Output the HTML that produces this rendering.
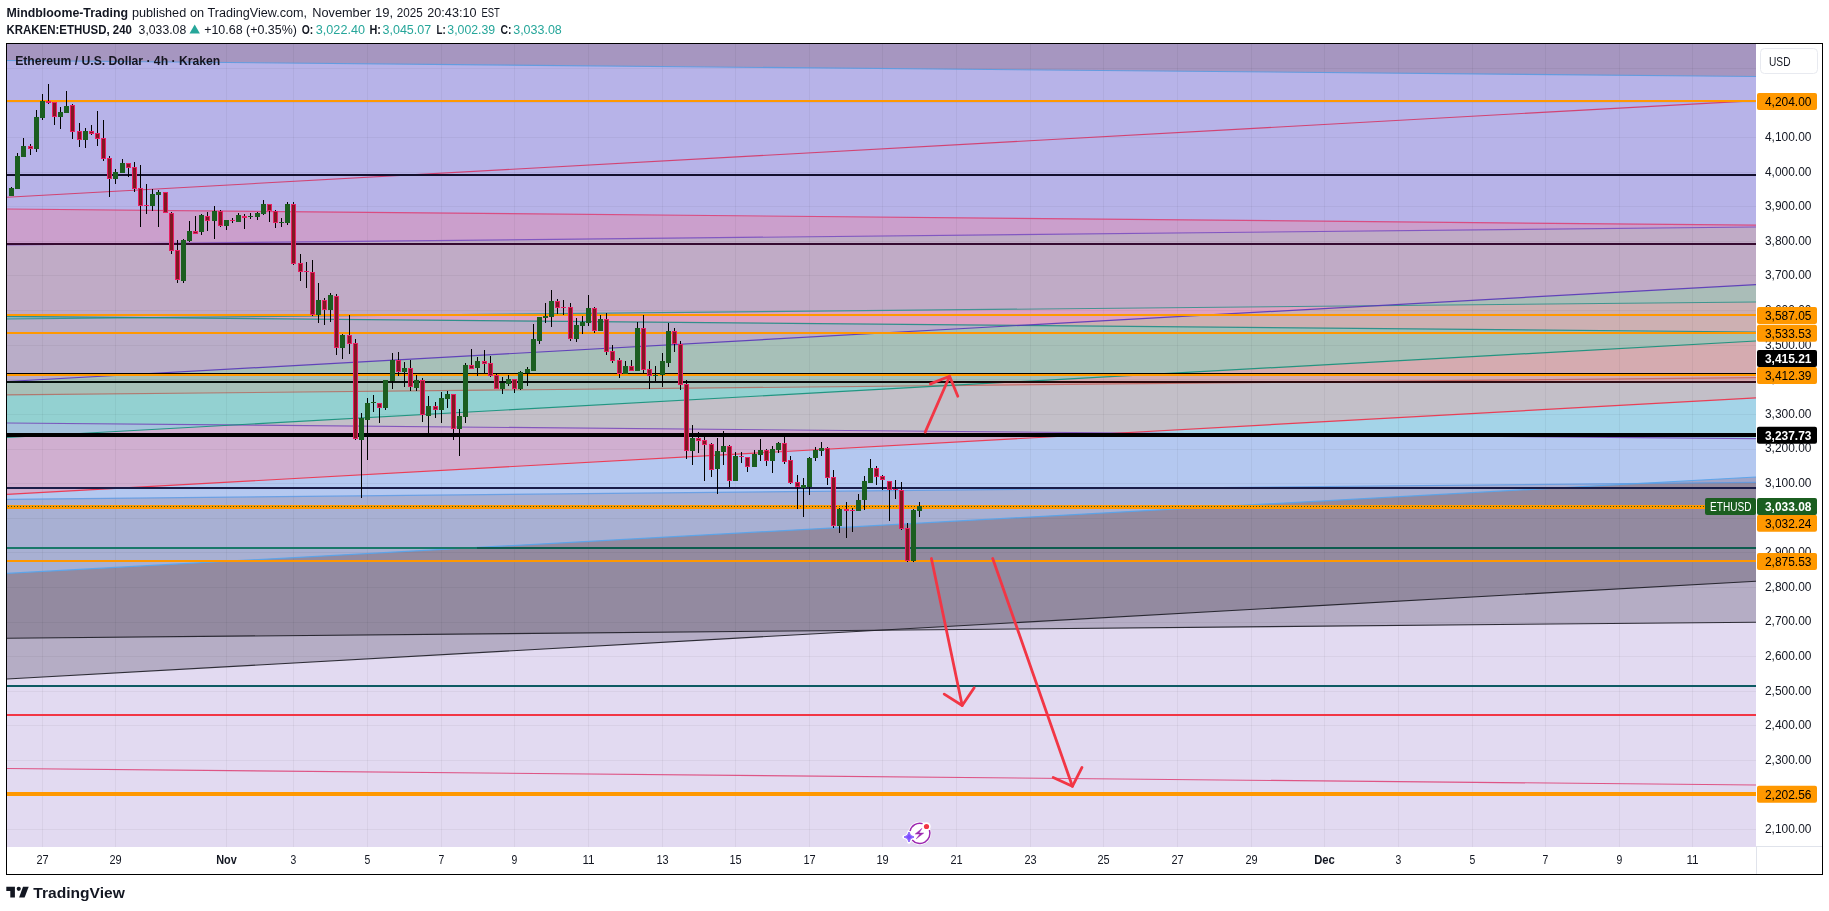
<!DOCTYPE html>
<html><head><meta charset="utf-8"><title>ETHUSD chart</title>
<style>
html,body{margin:0;padding:0;background:#fff;}
body{width:1829px;height:911px;position:relative;overflow:hidden;font-family:"Liberation Sans",sans-serif;}
svg text{font-family:"Liberation Sans",sans-serif;}
</style></head><body>
<svg width="1829" height="911" viewBox="0 0 1829 911" font-family="Liberation Sans, sans-serif" style="position:absolute;left:0;top:0;will-change:transform">
<defs><linearGradient id="h7g" x1="0" x2="1" y1="0" y2="0"><stop offset="0" stop-color="#06120e"/><stop offset="0.5" stop-color="#0a0a0a"/><stop offset="0.62" stop-color="#2a0608"/><stop offset="1" stop-color="#34101c"/></linearGradient></defs>
<rect x="0" y="0" width="1829" height="911" fill="#fff"/>
<g shape-rendering="geometricPrecision"><rect x="7" y="44" width="1749" height="803" fill="#a696c0"/>
<polygon points="7.00,60.50 1756.00,76.50 1756.00,847.00 7.00,847.00" fill="#b7b3e8"/>
<polygon points="7.00,209.00 1756.00,225.20 1756.00,847.00 7.00,847.00" fill="#cb9fcc"/>
<polygon points="7.00,245.00 1756.00,227.00 1756.00,847.00 7.00,847.00" fill="#c0abc6"/>
<polygon points="7.00,316.40 146.49,317.64 146.49,847.00 7.00,847.00" fill="#92b4c4"/>
<polygon points="146.49,317.64 1756.00,302.00 1756.00,847.00 146.49,847.00" fill="#dfa2c2"/>
<polygon points="7.00,319.00 146.49,317.64 146.49,317.64 1019.09,325.43 1019.09,847.00 7.00,847.00" fill="#b9adc8"/>
<polygon points="1375.12,305.70 1756.00,284.60 1756.00,847.00 1375.12,847.00" fill="#aabdb8"/>
<polygon points="1019.09,325.43 1375.12,305.70 1375.12,305.70 1756.00,302.00 1756.00,847.00 1019.09,847.00" fill="#cdb0b2"/>
<polygon points="7.00,381.50 1019.09,325.43 1019.09,325.43 1756.00,332.00 1756.00,847.00 7.00,847.00" fill="#a7c0b8"/>
<polygon points="7.00,394.90 947.75,385.59 947.75,847.00 7.00,847.00" fill="#93d1d1"/>
<polygon points="947.75,385.59 1756.00,341.00 1756.00,847.00 947.75,847.00" fill="#d5abb0"/>
<polygon points="7.00,423.00 233.23,425.02 233.23,847.00 7.00,847.00" fill="#a4c3dc"/>
<polygon points="233.23,425.02 947.75,385.59 947.75,385.59 1311.17,382.00 1311.17,382.00 1756.00,382.00 1756.00,847.00 233.23,847.00" fill="#c3bfc8"/>
<polygon points="7.00,437.50 233.23,425.02 233.23,425.02 1120.99,432.94 1120.99,847.00 7.00,847.00" fill="#d0afd0"/>
<polygon points="1120.99,432.94 1756.00,397.90 1756.00,847.00 1120.99,847.00" fill="#a4d4e8"/>
<polygon points="7.00,494.40 1120.99,432.94 1120.99,432.94 1756.00,438.60 1756.00,847.00 7.00,847.00" fill="#b4c8f0"/>
<polygon points="7.00,499.30 1639.25,483.43 1639.25,847.00 7.00,847.00" fill="#a8b0d3"/>
<polygon points="1639.25,483.43 1756.00,477.00 1756.00,847.00 1639.25,847.00" fill="#a0a4c8"/>
<polygon points="7.00,573.40 1639.25,483.43 1639.25,483.43 1756.00,482.30 1756.00,847.00 7.00,847.00" fill="#938aa0"/>
<polygon points="7.00,638.20 879.36,630.22 879.36,630.22 1756.00,581.20 1756.00,847.00 7.00,847.00" fill="#b5adc5"/>
<polygon points="7.00,679.00 879.36,630.22 879.36,630.22 1756.00,622.20 1756.00,847.00 7.00,847.00" fill="#e2daf1"/></g>
<g shape-rendering="crispEdges"><rect x="42" y="44" width="1" height="803" fill="#000" fill-opacity="0.045"/>
<rect x="115" y="44" width="1" height="803" fill="#000" fill-opacity="0.045"/>
<rect x="226" y="44" width="1" height="803" fill="#000" fill-opacity="0.045"/>
<rect x="293" y="44" width="1" height="803" fill="#000" fill-opacity="0.045"/>
<rect x="367" y="44" width="1" height="803" fill="#000" fill-opacity="0.045"/>
<rect x="441" y="44" width="1" height="803" fill="#000" fill-opacity="0.045"/>
<rect x="514" y="44" width="1" height="803" fill="#000" fill-opacity="0.045"/>
<rect x="588" y="44" width="1" height="803" fill="#000" fill-opacity="0.045"/>
<rect x="662" y="44" width="1" height="803" fill="#000" fill-opacity="0.045"/>
<rect x="735" y="44" width="1" height="803" fill="#000" fill-opacity="0.045"/>
<rect x="809" y="44" width="1" height="803" fill="#000" fill-opacity="0.045"/>
<rect x="882" y="44" width="1" height="803" fill="#000" fill-opacity="0.045"/>
<rect x="956" y="44" width="1" height="803" fill="#000" fill-opacity="0.045"/>
<rect x="1030" y="44" width="1" height="803" fill="#000" fill-opacity="0.045"/>
<rect x="1103" y="44" width="1" height="803" fill="#000" fill-opacity="0.045"/>
<rect x="1177" y="44" width="1" height="803" fill="#000" fill-opacity="0.045"/>
<rect x="1251" y="44" width="1" height="803" fill="#000" fill-opacity="0.045"/>
<rect x="1324" y="44" width="1" height="803" fill="#000" fill-opacity="0.045"/>
<rect x="1398" y="44" width="1" height="803" fill="#000" fill-opacity="0.045"/>
<rect x="1472" y="44" width="1" height="803" fill="#000" fill-opacity="0.045"/>
<rect x="1545" y="44" width="1" height="803" fill="#000" fill-opacity="0.045"/>
<rect x="1619" y="44" width="1" height="803" fill="#000" fill-opacity="0.045"/>
<rect x="1692" y="44" width="1" height="803" fill="#000" fill-opacity="0.045"/>
<rect x="7" y="829" width="1749" height="1" fill="#000" fill-opacity="0.045"/>
<rect x="7" y="795" width="1749" height="1" fill="#000" fill-opacity="0.045"/>
<rect x="7" y="760" width="1749" height="1" fill="#000" fill-opacity="0.045"/>
<rect x="7" y="725" width="1749" height="1" fill="#000" fill-opacity="0.045"/>
<rect x="7" y="691" width="1749" height="1" fill="#000" fill-opacity="0.045"/>
<rect x="7" y="656" width="1749" height="1" fill="#000" fill-opacity="0.045"/>
<rect x="7" y="622" width="1749" height="1" fill="#000" fill-opacity="0.045"/>
<rect x="7" y="587" width="1749" height="1" fill="#000" fill-opacity="0.045"/>
<rect x="7" y="552" width="1749" height="1" fill="#000" fill-opacity="0.045"/>
<rect x="7" y="518" width="1749" height="1" fill="#000" fill-opacity="0.045"/>
<rect x="7" y="483" width="1749" height="1" fill="#000" fill-opacity="0.045"/>
<rect x="7" y="449" width="1749" height="1" fill="#000" fill-opacity="0.045"/>
<rect x="7" y="414" width="1749" height="1" fill="#000" fill-opacity="0.045"/>
<rect x="7" y="379" width="1749" height="1" fill="#000" fill-opacity="0.045"/>
<rect x="7" y="345" width="1749" height="1" fill="#000" fill-opacity="0.045"/>
<rect x="7" y="310" width="1749" height="1" fill="#000" fill-opacity="0.045"/>
<rect x="7" y="275" width="1749" height="1" fill="#000" fill-opacity="0.045"/>
<rect x="7" y="241" width="1749" height="1" fill="#000" fill-opacity="0.045"/>
<rect x="7" y="206" width="1749" height="1" fill="#000" fill-opacity="0.045"/>
<rect x="7" y="172" width="1749" height="1" fill="#000" fill-opacity="0.045"/>
<rect x="7" y="137" width="1749" height="1" fill="#000" fill-opacity="0.045"/>
<rect x="7" y="102" width="1749" height="1" fill="#000" fill-opacity="0.045"/>
<rect x="7" y="68" width="1749" height="1" fill="#000" fill-opacity="0.045"/></g>
<g><line x1="7" y1="60.50" x2="1756" y2="76.50" stroke="#5b9be0" stroke-width="1.1" stroke-opacity="0.90"/>
<line x1="7" y1="197.20" x2="1756" y2="100.60" stroke="#d62f5e" stroke-width="1.1" stroke-opacity="0.85"/>
<line x1="7" y1="209.00" x2="1756" y2="225.20" stroke="#dd3d72" stroke-width="1.2" stroke-opacity="0.85"/>
<line x1="7" y1="245.00" x2="1756" y2="227.00" stroke="#7a4fc0" stroke-width="1.2" stroke-opacity="0.90"/>
<line x1="7" y1="316.40" x2="1756" y2="332.00" stroke="#1f8d86" stroke-width="1.2" stroke-opacity="0.90"/>
<line x1="7" y1="319.00" x2="1756" y2="302.00" stroke="#1f8d86" stroke-width="1.1" stroke-opacity="0.80"/>
<line x1="7" y1="381.50" x2="1756" y2="284.60" stroke="#5836b8" stroke-width="1.2" stroke-opacity="0.90"/>
<line x1="7" y1="394.90" x2="1756" y2="377.60" stroke="#c0392b" stroke-width="1.1" stroke-opacity="0.55"/>
<line x1="7" y1="423.00" x2="1756" y2="438.60" stroke="#7445b8" stroke-width="1.2" stroke-opacity="0.85"/>
<line x1="7" y1="437.50" x2="1756" y2="341.00" stroke="#12907a" stroke-width="1.2" stroke-opacity="0.90"/>
<line x1="7" y1="494.40" x2="1756" y2="397.90" stroke="#ee3048" stroke-width="1.2" stroke-opacity="0.90"/>
<line x1="7" y1="499.30" x2="1756" y2="482.30" stroke="#5a98e4" stroke-width="1.2" stroke-opacity="0.80"/>
<line x1="7" y1="573.40" x2="1756" y2="477.00" stroke="#56a4ec" stroke-width="1.2" stroke-opacity="0.90"/>
<line x1="7" y1="638.20" x2="1756" y2="622.20" stroke="#1c1c24" stroke-width="1.1" stroke-opacity="0.90"/>
<line x1="7" y1="679.00" x2="1756" y2="581.20" stroke="#1c1c24" stroke-width="1.1" stroke-opacity="0.90"/>
<line x1="7" y1="768.50" x2="1756" y2="785.00" stroke="#dd3d72" stroke-width="1.1" stroke-opacity="0.85"/></g>
<g shape-rendering="crispEdges"><rect x="7" y="100" width="1749" height="2" fill="#ff9800"/>
<rect x="7" y="174" width="1749" height="2" fill="#14102e"/>
<rect x="7" y="243" width="1749" height="2" fill="#350a30"/>
<rect x="7" y="314" width="1749" height="2" fill="#ff9800"/>
<rect x="7" y="332" width="1749" height="2" fill="#ff9800"/>
<rect x="7" y="373" width="1749" height="1" fill="#000000"/>
<rect x="7" y="374" width="1749" height="2" fill="#ff9800"/>
<rect x="7" y="433" width="1749" height="4" fill="#000000"/>
<rect x="7" y="487" width="1749" height="2" fill="#1a1d48"/>
<rect x="7" y="560" width="1749" height="2" fill="#ff9800"/>
<rect x="7" y="685" width="1749" height="2" fill="#0d5a63"/>
<rect x="7" y="714" width="1749" height="2" fill="#f23645"/>
<rect x="7" y="792" width="1749" height="4" fill="#ff9800"/>
<rect x="7" y="547" width="470" height="2" fill="#197869"/>
<rect x="477" y="547" width="1279" height="2" fill="#0d5c4f"/>
<rect x="7" y="381" width="1749" height="2" fill="url(#h7g)"/>
<rect x="7" y="505" width="1698" height="4" fill="#ff9800"/>
<line x1="8" y1="506.5" x2="1705" y2="506.5" stroke="#1b5e20" stroke-width="1" stroke-dasharray="1 2"/></g>
<g shape-rendering="crispEdges"><rect x="11" y="187" width="1" height="9" fill="#000"/>
<rect x="9" y="188" width="5" height="8" fill="#1b5e20"/>
<rect x="17" y="153" width="1" height="36" fill="#000"/>
<rect x="15" y="156" width="5" height="33" fill="#1b5e20"/>
<rect x="23" y="138" width="1" height="19" fill="#000"/>
<rect x="21" y="146" width="5" height="11" fill="#1b5e20"/>
<rect x="30" y="144" width="1" height="11" fill="#000"/>
<rect x="28" y="146" width="5" height="3" fill="#e91e63"/>
<rect x="29" y="147" width="3" height="1" fill="#801922"/>
<rect x="36" y="110" width="1" height="42" fill="#000"/>
<rect x="34" y="117" width="5" height="32" fill="#1b5e20"/>
<rect x="42" y="94" width="1" height="26" fill="#000"/>
<rect x="40" y="101" width="5" height="17" fill="#1b5e20"/>
<rect x="48" y="84" width="1" height="20" fill="#000"/>
<rect x="46" y="101" width="5" height="2" fill="#e91e63"/>
<rect x="54" y="102" width="1" height="23" fill="#000"/>
<rect x="52" y="102" width="5" height="15" fill="#e91e63"/>
<rect x="53" y="103" width="3" height="13" fill="#801922"/>
<rect x="60" y="107" width="1" height="22" fill="#000"/>
<rect x="58" y="112" width="5" height="5" fill="#1b5e20"/>
<rect x="66" y="91" width="1" height="22" fill="#000"/>
<rect x="64" y="106" width="5" height="7" fill="#1b5e20"/>
<rect x="72" y="104" width="1" height="35" fill="#000"/>
<rect x="70" y="105" width="5" height="27" fill="#e91e63"/>
<rect x="71" y="106" width="3" height="25" fill="#801922"/>
<rect x="79" y="123" width="1" height="24" fill="#000"/>
<rect x="77" y="131" width="5" height="9" fill="#e91e63"/>
<rect x="78" y="132" width="3" height="7" fill="#801922"/>
<rect x="85" y="128" width="1" height="20" fill="#000"/>
<rect x="83" y="131" width="5" height="9" fill="#1b5e20"/>
<rect x="91" y="125" width="1" height="10" fill="#000"/>
<rect x="89" y="131" width="5" height="3" fill="#e91e63"/>
<rect x="90" y="132" width="3" height="1" fill="#801922"/>
<rect x="97" y="111" width="1" height="35" fill="#000"/>
<rect x="95" y="133" width="5" height="6" fill="#e91e63"/>
<rect x="96" y="134" width="3" height="4" fill="#801922"/>
<rect x="103" y="120" width="1" height="41" fill="#000"/>
<rect x="101" y="138" width="5" height="21" fill="#e91e63"/>
<rect x="102" y="139" width="3" height="19" fill="#801922"/>
<rect x="109" y="156" width="1" height="41" fill="#000"/>
<rect x="107" y="158" width="5" height="21" fill="#e91e63"/>
<rect x="108" y="159" width="3" height="19" fill="#801922"/>
<rect x="115" y="169" width="1" height="15" fill="#000"/>
<rect x="113" y="172" width="5" height="7" fill="#1b5e20"/>
<rect x="122" y="159" width="1" height="14" fill="#000"/>
<rect x="120" y="163" width="5" height="10" fill="#1b5e20"/>
<rect x="128" y="163" width="1" height="14" fill="#000"/>
<rect x="126" y="163" width="5" height="5" fill="#e91e63"/>
<rect x="127" y="164" width="3" height="3" fill="#801922"/>
<rect x="134" y="162" width="1" height="30" fill="#000"/>
<rect x="132" y="167" width="5" height="22" fill="#e91e63"/>
<rect x="133" y="168" width="3" height="20" fill="#801922"/>
<rect x="140" y="165" width="1" height="62" fill="#000"/>
<rect x="138" y="188" width="5" height="18" fill="#e91e63"/>
<rect x="139" y="189" width="3" height="16" fill="#801922"/>
<rect x="146" y="184" width="1" height="30" fill="#000"/>
<rect x="144" y="205" width="5" height="1" fill="#e91e63"/>
<rect x="152" y="189" width="1" height="22" fill="#000"/>
<rect x="150" y="194" width="5" height="12" fill="#1b5e20"/>
<rect x="158" y="190" width="1" height="37" fill="#000"/>
<rect x="156" y="192" width="5" height="3" fill="#1b5e20"/>
<rect x="165" y="192" width="1" height="21" fill="#000"/>
<rect x="163" y="192" width="5" height="21" fill="#e91e63"/>
<rect x="164" y="193" width="3" height="19" fill="#801922"/>
<rect x="171" y="212" width="1" height="42" fill="#000"/>
<rect x="169" y="213" width="5" height="38" fill="#e91e63"/>
<rect x="170" y="214" width="3" height="36" fill="#801922"/>
<rect x="177" y="240" width="1" height="43" fill="#000"/>
<rect x="175" y="250" width="5" height="30" fill="#e91e63"/>
<rect x="176" y="251" width="3" height="28" fill="#801922"/>
<rect x="183" y="239" width="1" height="44" fill="#000"/>
<rect x="181" y="240" width="5" height="41" fill="#1b5e20"/>
<rect x="189" y="221" width="1" height="21" fill="#000"/>
<rect x="187" y="231" width="5" height="10" fill="#1b5e20"/>
<rect x="195" y="216" width="1" height="18" fill="#000"/>
<rect x="193" y="231" width="5" height="3" fill="#e91e63"/>
<rect x="194" y="232" width="3" height="1" fill="#801922"/>
<rect x="201" y="214" width="1" height="21" fill="#000"/>
<rect x="199" y="215" width="5" height="17" fill="#1b5e20"/>
<rect x="207" y="212" width="1" height="19" fill="#000"/>
<rect x="205" y="216" width="5" height="5" fill="#e91e63"/>
<rect x="206" y="217" width="3" height="3" fill="#801922"/>
<rect x="214" y="206" width="1" height="33" fill="#000"/>
<rect x="212" y="211" width="5" height="10" fill="#1b5e20"/>
<rect x="220" y="210" width="1" height="17" fill="#000"/>
<rect x="218" y="211" width="5" height="15" fill="#e91e63"/>
<rect x="219" y="212" width="3" height="13" fill="#801922"/>
<rect x="226" y="220" width="1" height="10" fill="#000"/>
<rect x="224" y="220" width="5" height="6" fill="#1b5e20"/>
<rect x="232" y="218" width="1" height="5" fill="#000"/>
<rect x="230" y="220" width="5" height="1" fill="#e91e63"/>
<rect x="238" y="213" width="1" height="9" fill="#000"/>
<rect x="236" y="215" width="5" height="7" fill="#1b5e20"/>
<rect x="244" y="214" width="1" height="15" fill="#000"/>
<rect x="242" y="216" width="5" height="2" fill="#e91e63"/>
<rect x="250" y="213" width="1" height="6" fill="#000"/>
<rect x="248" y="216" width="5" height="1" fill="#1b5e20"/>
<rect x="257" y="212" width="1" height="8" fill="#000"/>
<rect x="255" y="213" width="5" height="4" fill="#1b5e20"/>
<rect x="263" y="200" width="1" height="15" fill="#000"/>
<rect x="261" y="204" width="5" height="10" fill="#1b5e20"/>
<rect x="269" y="204" width="1" height="18" fill="#000"/>
<rect x="267" y="204" width="5" height="7" fill="#e91e63"/>
<rect x="268" y="205" width="3" height="5" fill="#801922"/>
<rect x="275" y="210" width="1" height="18" fill="#000"/>
<rect x="273" y="211" width="5" height="12" fill="#e91e63"/>
<rect x="274" y="212" width="3" height="10" fill="#801922"/>
<rect x="281" y="218" width="1" height="9" fill="#000"/>
<rect x="279" y="222" width="5" height="1" fill="#1b5e20"/>
<rect x="287" y="202" width="1" height="23" fill="#000"/>
<rect x="285" y="204" width="5" height="19" fill="#1b5e20"/>
<rect x="293" y="202" width="1" height="63" fill="#000"/>
<rect x="291" y="204" width="5" height="60" fill="#e91e63"/>
<rect x="292" y="205" width="3" height="58" fill="#801922"/>
<rect x="300" y="254" width="1" height="27" fill="#000"/>
<rect x="298" y="263" width="5" height="9" fill="#e91e63"/>
<rect x="299" y="264" width="3" height="7" fill="#801922"/>
<rect x="306" y="262" width="1" height="26" fill="#000"/>
<rect x="304" y="271" width="5" height="1" fill="#e91e63"/>
<rect x="312" y="260" width="1" height="56" fill="#000"/>
<rect x="310" y="272" width="5" height="43" fill="#e91e63"/>
<rect x="311" y="273" width="3" height="41" fill="#801922"/>
<rect x="318" y="283" width="1" height="40" fill="#000"/>
<rect x="316" y="300" width="5" height="15" fill="#1b5e20"/>
<rect x="324" y="298" width="1" height="27" fill="#000"/>
<rect x="322" y="300" width="5" height="10" fill="#e91e63"/>
<rect x="323" y="301" width="3" height="8" fill="#801922"/>
<rect x="330" y="293" width="1" height="29" fill="#000"/>
<rect x="328" y="295" width="5" height="15" fill="#1b5e20"/>
<rect x="336" y="294" width="1" height="61" fill="#000"/>
<rect x="334" y="296" width="5" height="52" fill="#e91e63"/>
<rect x="335" y="297" width="3" height="50" fill="#801922"/>
<rect x="342" y="334" width="1" height="25" fill="#000"/>
<rect x="340" y="335" width="5" height="13" fill="#1b5e20"/>
<rect x="349" y="315" width="1" height="39" fill="#000"/>
<rect x="347" y="335" width="5" height="9" fill="#e91e63"/>
<rect x="348" y="336" width="3" height="7" fill="#801922"/>
<rect x="355" y="339" width="1" height="101" fill="#000"/>
<rect x="353" y="343" width="5" height="96" fill="#e91e63"/>
<rect x="354" y="344" width="3" height="94" fill="#801922"/>
<rect x="361" y="413" width="1" height="85" fill="#000"/>
<rect x="359" y="418" width="5" height="22" fill="#1b5e20"/>
<rect x="367" y="398" width="1" height="62" fill="#000"/>
<rect x="365" y="403" width="5" height="17" fill="#1b5e20"/>
<rect x="373" y="395" width="1" height="17" fill="#000"/>
<rect x="371" y="402" width="5" height="1" fill="#1b5e20"/>
<rect x="379" y="403" width="1" height="20" fill="#000"/>
<rect x="377" y="403" width="5" height="5" fill="#e91e63"/>
<rect x="378" y="404" width="3" height="3" fill="#801922"/>
<rect x="385" y="380" width="1" height="30" fill="#000"/>
<rect x="383" y="380" width="5" height="28" fill="#1b5e20"/>
<rect x="392" y="353" width="1" height="36" fill="#000"/>
<rect x="390" y="360" width="5" height="21" fill="#1b5e20"/>
<rect x="398" y="352" width="1" height="24" fill="#000"/>
<rect x="396" y="360" width="5" height="12" fill="#e91e63"/>
<rect x="397" y="361" width="3" height="10" fill="#801922"/>
<rect x="404" y="362" width="1" height="25" fill="#000"/>
<rect x="402" y="368" width="5" height="4" fill="#1b5e20"/>
<rect x="410" y="360" width="1" height="31" fill="#000"/>
<rect x="408" y="368" width="5" height="19" fill="#e91e63"/>
<rect x="409" y="369" width="3" height="17" fill="#801922"/>
<rect x="416" y="375" width="1" height="16" fill="#000"/>
<rect x="414" y="380" width="5" height="8" fill="#1b5e20"/>
<rect x="422" y="378" width="1" height="44" fill="#000"/>
<rect x="420" y="380" width="5" height="35" fill="#e91e63"/>
<rect x="421" y="381" width="3" height="33" fill="#801922"/>
<rect x="428" y="396" width="1" height="37" fill="#000"/>
<rect x="426" y="406" width="5" height="10" fill="#1b5e20"/>
<rect x="435" y="402" width="1" height="16" fill="#000"/>
<rect x="433" y="406" width="5" height="4" fill="#e91e63"/>
<rect x="434" y="407" width="3" height="2" fill="#801922"/>
<rect x="441" y="392" width="1" height="31" fill="#000"/>
<rect x="439" y="398" width="5" height="12" fill="#1b5e20"/>
<rect x="447" y="391" width="1" height="17" fill="#000"/>
<rect x="445" y="394" width="5" height="5" fill="#1b5e20"/>
<rect x="453" y="394" width="1" height="46" fill="#000"/>
<rect x="451" y="394" width="5" height="35" fill="#e91e63"/>
<rect x="452" y="395" width="3" height="33" fill="#801922"/>
<rect x="459" y="409" width="1" height="47" fill="#000"/>
<rect x="457" y="416" width="5" height="13" fill="#1b5e20"/>
<rect x="465" y="363" width="1" height="60" fill="#000"/>
<rect x="463" y="365" width="5" height="52" fill="#1b5e20"/>
<rect x="471" y="349" width="1" height="20" fill="#000"/>
<rect x="469" y="365" width="5" height="4" fill="#e91e63"/>
<rect x="470" y="366" width="3" height="2" fill="#801922"/>
<rect x="477" y="357" width="1" height="19" fill="#000"/>
<rect x="475" y="361" width="5" height="7" fill="#1b5e20"/>
<rect x="484" y="350" width="1" height="24" fill="#000"/>
<rect x="482" y="361" width="5" height="3" fill="#e91e63"/>
<rect x="483" y="362" width="3" height="1" fill="#801922"/>
<rect x="490" y="356" width="1" height="21" fill="#000"/>
<rect x="488" y="363" width="5" height="13" fill="#e91e63"/>
<rect x="489" y="364" width="3" height="11" fill="#801922"/>
<rect x="496" y="374" width="1" height="15" fill="#000"/>
<rect x="494" y="375" width="5" height="14" fill="#e91e63"/>
<rect x="495" y="376" width="3" height="12" fill="#801922"/>
<rect x="502" y="377" width="1" height="17" fill="#000"/>
<rect x="500" y="383" width="5" height="6" fill="#1b5e20"/>
<rect x="508" y="375" width="1" height="11" fill="#000"/>
<rect x="506" y="379" width="5" height="5" fill="#1b5e20"/>
<rect x="514" y="379" width="1" height="14" fill="#000"/>
<rect x="512" y="379" width="5" height="10" fill="#e91e63"/>
<rect x="513" y="380" width="3" height="8" fill="#801922"/>
<rect x="520" y="371" width="1" height="19" fill="#000"/>
<rect x="518" y="372" width="5" height="17" fill="#1b5e20"/>
<rect x="527" y="367" width="1" height="19" fill="#000"/>
<rect x="525" y="369" width="5" height="4" fill="#1b5e20"/>
<rect x="533" y="324" width="1" height="47" fill="#000"/>
<rect x="531" y="339" width="5" height="32" fill="#1b5e20"/>
<rect x="539" y="317" width="1" height="27" fill="#000"/>
<rect x="537" y="317" width="5" height="24" fill="#1b5e20"/>
<rect x="545" y="303" width="1" height="20" fill="#000"/>
<rect x="543" y="316" width="5" height="2" fill="#1b5e20"/>
<rect x="551" y="290" width="1" height="37" fill="#000"/>
<rect x="549" y="301" width="5" height="16" fill="#1b5e20"/>
<rect x="557" y="299" width="1" height="15" fill="#000"/>
<rect x="555" y="301" width="5" height="7" fill="#e91e63"/>
<rect x="556" y="302" width="3" height="5" fill="#801922"/>
<rect x="563" y="300" width="1" height="15" fill="#000"/>
<rect x="561" y="307" width="5" height="1" fill="#e91e63"/>
<rect x="570" y="303" width="1" height="38" fill="#000"/>
<rect x="568" y="307" width="5" height="32" fill="#e91e63"/>
<rect x="569" y="308" width="3" height="30" fill="#801922"/>
<rect x="576" y="318" width="1" height="24" fill="#000"/>
<rect x="574" y="325" width="5" height="14" fill="#1b5e20"/>
<rect x="582" y="316" width="1" height="18" fill="#000"/>
<rect x="580" y="322" width="5" height="4" fill="#1b5e20"/>
<rect x="588" y="295" width="1" height="31" fill="#000"/>
<rect x="586" y="308" width="5" height="15" fill="#1b5e20"/>
<rect x="594" y="307" width="1" height="26" fill="#000"/>
<rect x="592" y="308" width="5" height="23" fill="#e91e63"/>
<rect x="593" y="309" width="3" height="21" fill="#801922"/>
<rect x="600" y="315" width="1" height="16" fill="#000"/>
<rect x="598" y="319" width="5" height="12" fill="#1b5e20"/>
<rect x="606" y="313" width="1" height="42" fill="#000"/>
<rect x="604" y="319" width="5" height="33" fill="#e91e63"/>
<rect x="605" y="320" width="3" height="31" fill="#801922"/>
<rect x="612" y="345" width="1" height="18" fill="#000"/>
<rect x="610" y="351" width="5" height="10" fill="#e91e63"/>
<rect x="611" y="352" width="3" height="8" fill="#801922"/>
<rect x="619" y="358" width="1" height="20" fill="#000"/>
<rect x="617" y="360" width="5" height="14" fill="#e91e63"/>
<rect x="618" y="361" width="3" height="12" fill="#801922"/>
<rect x="625" y="361" width="1" height="13" fill="#000"/>
<rect x="623" y="366" width="5" height="8" fill="#1b5e20"/>
<rect x="631" y="360" width="1" height="11" fill="#000"/>
<rect x="629" y="366" width="5" height="5" fill="#e91e63"/>
<rect x="630" y="367" width="3" height="3" fill="#801922"/>
<rect x="637" y="322" width="1" height="49" fill="#000"/>
<rect x="635" y="328" width="5" height="43" fill="#1b5e20"/>
<rect x="643" y="315" width="1" height="58" fill="#000"/>
<rect x="641" y="328" width="5" height="42" fill="#e91e63"/>
<rect x="642" y="329" width="3" height="40" fill="#801922"/>
<rect x="649" y="361" width="1" height="28" fill="#000"/>
<rect x="647" y="369" width="5" height="7" fill="#e91e63"/>
<rect x="648" y="370" width="3" height="5" fill="#801922"/>
<rect x="655" y="366" width="1" height="15" fill="#000"/>
<rect x="653" y="375" width="5" height="1" fill="#1b5e20"/>
<rect x="662" y="353" width="1" height="34" fill="#000"/>
<rect x="660" y="361" width="5" height="14" fill="#1b5e20"/>
<rect x="668" y="323" width="1" height="44" fill="#000"/>
<rect x="666" y="331" width="5" height="32" fill="#1b5e20"/>
<rect x="674" y="328" width="1" height="24" fill="#000"/>
<rect x="672" y="331" width="5" height="13" fill="#e91e63"/>
<rect x="673" y="332" width="3" height="11" fill="#801922"/>
<rect x="680" y="341" width="1" height="49" fill="#000"/>
<rect x="678" y="344" width="5" height="41" fill="#e91e63"/>
<rect x="679" y="345" width="3" height="39" fill="#801922"/>
<rect x="686" y="380" width="1" height="79" fill="#000"/>
<rect x="684" y="384" width="5" height="67" fill="#e91e63"/>
<rect x="685" y="385" width="3" height="65" fill="#801922"/>
<rect x="692" y="425" width="1" height="40" fill="#000"/>
<rect x="690" y="438" width="5" height="13" fill="#1b5e20"/>
<rect x="698" y="432" width="1" height="21" fill="#000"/>
<rect x="696" y="438" width="5" height="3" fill="#e91e63"/>
<rect x="697" y="439" width="3" height="1" fill="#801922"/>
<rect x="704" y="437" width="1" height="44" fill="#000"/>
<rect x="702" y="440" width="5" height="5" fill="#e91e63"/>
<rect x="703" y="441" width="3" height="3" fill="#801922"/>
<rect x="711" y="443" width="1" height="34" fill="#000"/>
<rect x="709" y="444" width="5" height="26" fill="#e91e63"/>
<rect x="710" y="445" width="3" height="24" fill="#801922"/>
<rect x="717" y="438" width="1" height="56" fill="#000"/>
<rect x="715" y="451" width="5" height="18" fill="#1b5e20"/>
<rect x="723" y="431" width="1" height="34" fill="#000"/>
<rect x="721" y="446" width="5" height="6" fill="#1b5e20"/>
<rect x="729" y="445" width="1" height="42" fill="#000"/>
<rect x="727" y="446" width="5" height="35" fill="#e91e63"/>
<rect x="728" y="447" width="3" height="33" fill="#801922"/>
<rect x="735" y="452" width="1" height="29" fill="#000"/>
<rect x="733" y="456" width="5" height="25" fill="#1b5e20"/>
<rect x="741" y="452" width="1" height="11" fill="#000"/>
<rect x="739" y="456" width="5" height="1" fill="#e91e63"/>
<rect x="747" y="457" width="1" height="15" fill="#000"/>
<rect x="745" y="457" width="5" height="10" fill="#e91e63"/>
<rect x="746" y="458" width="3" height="8" fill="#801922"/>
<rect x="754" y="450" width="1" height="17" fill="#000"/>
<rect x="752" y="454" width="5" height="13" fill="#1b5e20"/>
<rect x="760" y="439" width="1" height="22" fill="#000"/>
<rect x="758" y="450" width="5" height="5" fill="#1b5e20"/>
<rect x="766" y="449" width="1" height="17" fill="#000"/>
<rect x="764" y="450" width="5" height="11" fill="#e91e63"/>
<rect x="765" y="451" width="3" height="9" fill="#801922"/>
<rect x="772" y="446" width="1" height="27" fill="#000"/>
<rect x="770" y="449" width="5" height="12" fill="#1b5e20"/>
<rect x="778" y="442" width="1" height="11" fill="#000"/>
<rect x="776" y="443" width="5" height="7" fill="#1b5e20"/>
<rect x="784" y="437" width="1" height="27" fill="#000"/>
<rect x="782" y="443" width="5" height="19" fill="#e91e63"/>
<rect x="783" y="444" width="3" height="17" fill="#801922"/>
<rect x="790" y="456" width="1" height="28" fill="#000"/>
<rect x="788" y="460" width="5" height="23" fill="#e91e63"/>
<rect x="789" y="461" width="3" height="21" fill="#801922"/>
<rect x="797" y="475" width="1" height="34" fill="#000"/>
<rect x="795" y="482" width="5" height="5" fill="#e91e63"/>
<rect x="796" y="483" width="3" height="3" fill="#801922"/>
<rect x="803" y="478" width="1" height="39" fill="#000"/>
<rect x="801" y="485" width="5" height="3" fill="#1b5e20"/>
<rect x="809" y="457" width="1" height="38" fill="#000"/>
<rect x="807" y="458" width="5" height="29" fill="#1b5e20"/>
<rect x="815" y="447" width="1" height="14" fill="#000"/>
<rect x="813" y="450" width="5" height="8" fill="#1b5e20"/>
<rect x="821" y="442" width="1" height="14" fill="#000"/>
<rect x="819" y="448" width="5" height="3" fill="#1b5e20"/>
<rect x="827" y="447" width="1" height="38" fill="#000"/>
<rect x="825" y="448" width="5" height="30" fill="#e91e63"/>
<rect x="826" y="449" width="3" height="28" fill="#801922"/>
<rect x="833" y="470" width="1" height="58" fill="#000"/>
<rect x="831" y="477" width="5" height="49" fill="#e91e63"/>
<rect x="832" y="478" width="3" height="47" fill="#801922"/>
<rect x="839" y="508" width="1" height="25" fill="#000"/>
<rect x="837" y="509" width="5" height="17" fill="#1b5e20"/>
<rect x="846" y="502" width="1" height="36" fill="#000"/>
<rect x="844" y="509" width="5" height="2" fill="#e91e63"/>
<rect x="852" y="508" width="1" height="24" fill="#000"/>
<rect x="850" y="510" width="5" height="1" fill="#e91e63"/>
<rect x="858" y="494" width="1" height="17" fill="#000"/>
<rect x="856" y="500" width="5" height="11" fill="#1b5e20"/>
<rect x="864" y="476" width="1" height="34" fill="#000"/>
<rect x="862" y="481" width="5" height="19" fill="#1b5e20"/>
<rect x="870" y="459" width="1" height="24" fill="#000"/>
<rect x="868" y="468" width="5" height="15" fill="#1b5e20"/>
<rect x="876" y="466" width="1" height="19" fill="#000"/>
<rect x="874" y="468" width="5" height="9" fill="#e91e63"/>
<rect x="875" y="469" width="3" height="7" fill="#801922"/>
<rect x="882" y="475" width="1" height="15" fill="#000"/>
<rect x="880" y="476" width="5" height="4" fill="#e91e63"/>
<rect x="881" y="477" width="3" height="2" fill="#801922"/>
<rect x="889" y="481" width="1" height="40" fill="#000"/>
<rect x="887" y="481" width="5" height="9" fill="#e91e63"/>
<rect x="888" y="482" width="3" height="7" fill="#801922"/>
<rect x="895" y="480" width="1" height="19" fill="#000"/>
<rect x="893" y="489" width="5" height="1" fill="#e91e63"/>
<rect x="901" y="482" width="1" height="48" fill="#000"/>
<rect x="899" y="490" width="5" height="39" fill="#e91e63"/>
<rect x="900" y="491" width="3" height="37" fill="#801922"/>
<rect x="907" y="523" width="1" height="39" fill="#000"/>
<rect x="905" y="528" width="5" height="33" fill="#e91e63"/>
<rect x="906" y="529" width="3" height="31" fill="#801922"/>
<rect x="913" y="509" width="1" height="53" fill="#000"/>
<rect x="911" y="510" width="5" height="51" fill="#1b5e20"/>
<rect x="919" y="502" width="1" height="15" fill="#000"/>
<rect x="917" y="506" width="5" height="5" fill="#1b5e20"/></g>
<g stroke="#f23645" stroke-width="2.8" stroke-linecap="round" stroke-linejoin="round" fill="none"><line x1="925.2" y1="432.1" x2="949.6" y2="376.3"/><polyline points="930.4,383.9 949.6,376.3 957.8,396.3"/></g>
<g stroke="#f23645" stroke-width="2.8" stroke-linecap="round" stroke-linejoin="round" fill="none"><line x1="931.4" y1="558.5" x2="962.2" y2="705.5"/><polyline points="944.2,694.1 962.2,705.5 974.2,687.8"/></g>
<g stroke="#f23645" stroke-width="2.8" stroke-linecap="round" stroke-linejoin="round" fill="none"><line x1="992.7" y1="558.5" x2="1072.4" y2="786.3"/><polyline points="1053.2,777.4 1072.4,786.3 1082.0,767.4"/></g>
<g>
<circle cx="919.7" cy="833.3" r="11.5" fill="#fff"/>
<circle cx="926.5" cy="826.5" r="4.2" fill="#fff"/>
<path d="M909 832 Q909.6 836.4 914 837 Q909.6 837.6 909 842 Q908.4 837.6 904 837 Q908.4 836.4 909 832 Z" fill="#fff" stroke="#fff" stroke-width="3.4" stroke-linejoin="round"/>
<path d="M910.0 831.0 A10.1 10.1 0 0 1 922.6 823.6" fill="none" stroke="#9c27b0" stroke-width="1.5"/>
<path d="M929.4 830.0 A10.1 10.1 0 0 1 912.2 839.9" fill="none" stroke="#9c27b0" stroke-width="1.5"/>
<path d="M921.9 828.4 L915.2 834 L919.9 834 L916.3 838.8 L923.7 833.1 L919 833.1 Z" fill="#9c27b0" stroke="#9c27b0" stroke-width="0.5" stroke-linejoin="round"/>
<circle cx="926.5" cy="826.5" r="2.6" fill="#f23645"/>
<path d="M909 832 Q909.7 836.3 914 837 Q909.7 837.7 909 842 Q908.3 837.7 904 837 Q908.3 836.3 909 832 Z" fill="#7c4dff" stroke="#7c4dff" stroke-width="0.9" stroke-linejoin="round"/>
</g>
<rect x="1756" y="44" width="66" height="830" fill="#fff"/>
<rect x="7" y="847" width="1815" height="27" fill="#fff"/>
<rect x="1756" y="846" width="66" height="1" fill="#e0e3eb" shape-rendering="crispEdges"/>
<rect x="1756" y="847" width="1" height="27" fill="#e0e3eb" shape-rendering="crispEdges"/>
<g shape-rendering="crispEdges" fill="#000"><rect x="6" y="43" width="1817" height="1"/><rect x="6" y="874" width="1817" height="1"/><rect x="6" y="43" width="1" height="832"/><rect x="1822" y="43" width="1" height="832"/></g>
<rect x="1760.5" y="48.5" width="57" height="25" rx="4" fill="#fff" stroke="#e8eaf0" stroke-width="1"/>
<text x="1769" y="66" font-size="12" textLength="21.5" lengthAdjust="spacingAndGlyphs" fill="#131722">USD</text>
<text x="1788.2" y="833.1" font-size="12" text-anchor="middle" textLength="46.5" lengthAdjust="spacingAndGlyphs" fill="#131722">2,100.00</text>
<text x="1788.2" y="798.5" font-size="12" text-anchor="middle" textLength="46.5" lengthAdjust="spacingAndGlyphs" fill="#131722">2,200.00</text>
<text x="1788.2" y="763.9" font-size="12" text-anchor="middle" textLength="46.5" lengthAdjust="spacingAndGlyphs" fill="#131722">2,300.00</text>
<text x="1788.2" y="729.3" font-size="12" text-anchor="middle" textLength="46.5" lengthAdjust="spacingAndGlyphs" fill="#131722">2,400.00</text>
<text x="1788.2" y="694.7" font-size="12" text-anchor="middle" textLength="46.5" lengthAdjust="spacingAndGlyphs" fill="#131722">2,500.00</text>
<text x="1788.2" y="660.0" font-size="12" text-anchor="middle" textLength="46.5" lengthAdjust="spacingAndGlyphs" fill="#131722">2,600.00</text>
<text x="1788.2" y="625.4" font-size="12" text-anchor="middle" textLength="46.5" lengthAdjust="spacingAndGlyphs" fill="#131722">2,700.00</text>
<text x="1788.2" y="590.8" font-size="12" text-anchor="middle" textLength="46.5" lengthAdjust="spacingAndGlyphs" fill="#131722">2,800.00</text>
<text x="1788.2" y="556.2" font-size="12" text-anchor="middle" textLength="46.5" lengthAdjust="spacingAndGlyphs" fill="#131722">2,900.00</text>
<text x="1788.2" y="521.6" font-size="12" text-anchor="middle" textLength="46.5" lengthAdjust="spacingAndGlyphs" fill="#131722">3,000.00</text>
<text x="1788.2" y="487.0" font-size="12" text-anchor="middle" textLength="46.5" lengthAdjust="spacingAndGlyphs" fill="#131722">3,100.00</text>
<text x="1788.2" y="452.4" font-size="12" text-anchor="middle" textLength="46.5" lengthAdjust="spacingAndGlyphs" fill="#131722">3,200.00</text>
<text x="1788.2" y="417.8" font-size="12" text-anchor="middle" textLength="46.5" lengthAdjust="spacingAndGlyphs" fill="#131722">3,300.00</text>
<text x="1788.2" y="383.2" font-size="12" text-anchor="middle" textLength="46.5" lengthAdjust="spacingAndGlyphs" fill="#131722">3,400.00</text>
<text x="1788.2" y="348.6" font-size="12" text-anchor="middle" textLength="46.5" lengthAdjust="spacingAndGlyphs" fill="#131722">3,500.00</text>
<text x="1788.2" y="313.9" font-size="12" text-anchor="middle" textLength="46.5" lengthAdjust="spacingAndGlyphs" fill="#131722">3,600.00</text>
<text x="1788.2" y="279.3" font-size="12" text-anchor="middle" textLength="46.5" lengthAdjust="spacingAndGlyphs" fill="#131722">3,700.00</text>
<text x="1788.2" y="244.7" font-size="12" text-anchor="middle" textLength="46.5" lengthAdjust="spacingAndGlyphs" fill="#131722">3,800.00</text>
<text x="1788.2" y="210.1" font-size="12" text-anchor="middle" textLength="46.5" lengthAdjust="spacingAndGlyphs" fill="#131722">3,900.00</text>
<text x="1788.2" y="175.5" font-size="12" text-anchor="middle" textLength="46.5" lengthAdjust="spacingAndGlyphs" fill="#131722">4,000.00</text>
<text x="1788.2" y="140.9" font-size="12" text-anchor="middle" textLength="46.5" lengthAdjust="spacingAndGlyphs" fill="#131722">4,100.00</text>
<rect x="1757" y="93.0" width="60" height="17" rx="2" fill="#ff9800"/><text x="1788.2" y="105.8" font-size="12"  text-anchor="middle" textLength="46.5" lengthAdjust="spacingAndGlyphs" fill="#000">4,204.00</text>
<rect x="1757" y="307.0" width="60" height="17" rx="2" fill="#ff9800"/><text x="1788.2" y="319.8" font-size="12"  text-anchor="middle" textLength="46.5" lengthAdjust="spacingAndGlyphs" fill="#000">3,587.05</text>
<rect x="1757" y="324.8" width="60" height="17" rx="2" fill="#ff9800"/><text x="1788.2" y="337.6" font-size="12"  text-anchor="middle" textLength="46.5" lengthAdjust="spacingAndGlyphs" fill="#000">3,533.53</text>
<rect x="1757" y="367.0" width="60" height="17" rx="2" fill="#ff9800"/><text x="1788.2" y="379.8" font-size="12"  text-anchor="middle" textLength="46.5" lengthAdjust="spacingAndGlyphs" fill="#000">3,412.39</text>
<rect x="1757" y="350.0" width="60" height="17" rx="2" fill="#000"/><text x="1788.2" y="362.8" font-size="12" font-weight="bold" text-anchor="middle" textLength="46.5" lengthAdjust="spacingAndGlyphs" fill="#fff">3,415.21</text>
<rect x="1757" y="426.8" width="60" height="17" rx="2" fill="#000"/><text x="1788.2" y="439.6" font-size="12" font-weight="bold" text-anchor="middle" textLength="46.5" lengthAdjust="spacingAndGlyphs" fill="#fff">3,237.73</text>
<rect x="1757" y="514.8" width="60" height="17" rx="2" fill="#ff9800"/><text x="1788.2" y="527.6" font-size="12"  text-anchor="middle" textLength="46.5" lengthAdjust="spacingAndGlyphs" fill="#000">3,032.24</text>
<rect x="1757" y="498.0" width="60" height="17" rx="2" fill="#1b5e20"/><text x="1788.2" y="510.8" font-size="12" font-weight="bold" text-anchor="middle" textLength="46.5" lengthAdjust="spacingAndGlyphs" fill="#fff">3,033.08</text>
<rect x="1757" y="553.0" width="60" height="17" rx="2" fill="#ff9800"/><text x="1788.2" y="565.8" font-size="12"  text-anchor="middle" textLength="46.5" lengthAdjust="spacingAndGlyphs" fill="#000">2,875.53</text>
<rect x="1757" y="785.8" width="60" height="17" rx="2" fill="#ff9800"/><text x="1788.2" y="798.6" font-size="12"  text-anchor="middle" textLength="46.5" lengthAdjust="spacingAndGlyphs" fill="#000">2,202.56</text>
<rect x="1705" y="498.0" width="51" height="17" rx="2" fill="#1b5e20"/><text x="1730.8" y="510.8" font-size="12"  text-anchor="middle" textLength="41.5" lengthAdjust="spacingAndGlyphs" fill="#fff">ETHUSD</text>
<text x="42.5" y="864" font-size="12" text-anchor="middle" textLength="12.2" lengthAdjust="spacingAndGlyphs" fill="#131722">27</text>
<text x="115.5" y="864" font-size="12" text-anchor="middle" textLength="12.2" lengthAdjust="spacingAndGlyphs" fill="#131722">29</text>
<text x="226.5" y="864" font-size="12" text-anchor="middle" font-weight="bold" textLength="20.6" lengthAdjust="spacingAndGlyphs" fill="#131722">Nov</text>
<text x="293.5" y="864" font-size="12" text-anchor="middle" textLength="5.8" lengthAdjust="spacingAndGlyphs" fill="#131722">3</text>
<text x="367.5" y="864" font-size="12" text-anchor="middle" textLength="5.8" lengthAdjust="spacingAndGlyphs" fill="#131722">5</text>
<text x="441.5" y="864" font-size="12" text-anchor="middle" textLength="5.8" lengthAdjust="spacingAndGlyphs" fill="#131722">7</text>
<text x="514.5" y="864" font-size="12" text-anchor="middle" textLength="5.8" lengthAdjust="spacingAndGlyphs" fill="#131722">9</text>
<text x="588.5" y="864" font-size="12" text-anchor="middle" textLength="12.2" lengthAdjust="spacingAndGlyphs" fill="#131722">11</text>
<text x="662.5" y="864" font-size="12" text-anchor="middle" textLength="12.2" lengthAdjust="spacingAndGlyphs" fill="#131722">13</text>
<text x="735.5" y="864" font-size="12" text-anchor="middle" textLength="12.2" lengthAdjust="spacingAndGlyphs" fill="#131722">15</text>
<text x="809.5" y="864" font-size="12" text-anchor="middle" textLength="12.2" lengthAdjust="spacingAndGlyphs" fill="#131722">17</text>
<text x="882.5" y="864" font-size="12" text-anchor="middle" textLength="12.2" lengthAdjust="spacingAndGlyphs" fill="#131722">19</text>
<text x="956.5" y="864" font-size="12" text-anchor="middle" textLength="12.2" lengthAdjust="spacingAndGlyphs" fill="#131722">21</text>
<text x="1030.5" y="864" font-size="12" text-anchor="middle" textLength="12.2" lengthAdjust="spacingAndGlyphs" fill="#131722">23</text>
<text x="1103.5" y="864" font-size="12" text-anchor="middle" textLength="12.2" lengthAdjust="spacingAndGlyphs" fill="#131722">25</text>
<text x="1177.5" y="864" font-size="12" text-anchor="middle" textLength="12.2" lengthAdjust="spacingAndGlyphs" fill="#131722">27</text>
<text x="1251.5" y="864" font-size="12" text-anchor="middle" textLength="12.2" lengthAdjust="spacingAndGlyphs" fill="#131722">29</text>
<text x="1324.5" y="864" font-size="12" text-anchor="middle" font-weight="bold" textLength="20.6" lengthAdjust="spacingAndGlyphs" fill="#131722">Dec</text>
<text x="1398.5" y="864" font-size="12" text-anchor="middle" textLength="5.8" lengthAdjust="spacingAndGlyphs" fill="#131722">3</text>
<text x="1472.5" y="864" font-size="12" text-anchor="middle" textLength="5.8" lengthAdjust="spacingAndGlyphs" fill="#131722">5</text>
<text x="1545.5" y="864" font-size="12" text-anchor="middle" textLength="5.8" lengthAdjust="spacingAndGlyphs" fill="#131722">7</text>
<text x="1619.5" y="864" font-size="12" text-anchor="middle" textLength="5.8" lengthAdjust="spacingAndGlyphs" fill="#131722">9</text>
<text x="1692.5" y="864" font-size="12" text-anchor="middle" textLength="12.2" lengthAdjust="spacingAndGlyphs" fill="#131722">11</text>
<text x="15.2" y="65.1" font-size="12" font-weight="bold" textLength="205" lengthAdjust="spacingAndGlyphs" fill="#15151f">Ethereum / U.S. Dollar · 4h · Kraken</text>
<text y="17" font-size="12.5" fill="#131722"><tspan x="6.5" font-weight="bold" textLength="121.5" lengthAdjust="spacingAndGlyphs">Mindbloome-Trading</tspan><tspan x="132.0" textLength="54.2" lengthAdjust="spacingAndGlyphs">published</tspan><tspan x="190.0" textLength="14.2" lengthAdjust="spacingAndGlyphs">on</tspan><tspan x="207.5" textLength="99.6" lengthAdjust="spacingAndGlyphs">TradingView.com,</tspan><tspan x="312.3" textLength="58.7" lengthAdjust="spacingAndGlyphs">November</tspan><tspan x="375.1" textLength="18.1" lengthAdjust="spacingAndGlyphs">19,</tspan><tspan x="396.8" textLength="25.9" lengthAdjust="spacingAndGlyphs">2025</tspan><tspan x="427.3" textLength="49.2" lengthAdjust="spacingAndGlyphs">20:43:10</tspan><tspan x="481.4" textLength="18.4" lengthAdjust="spacingAndGlyphs">EST</tspan></text>
<text y="34" font-size="12.5" fill="#131722"><tspan x="6.5" font-weight="bold" textLength="125.5" lengthAdjust="spacingAndGlyphs">KRAKEN:ETHUSD, 240</tspan><tspan x="138.6" textLength="47.6" lengthAdjust="spacingAndGlyphs">3,033.08</tspan><tspan x="204.2" textLength="92.7" lengthAdjust="spacingAndGlyphs">+10.68 (+0.35%)</tspan><tspan x="301.8" font-weight="bold" textLength="11.5" lengthAdjust="spacingAndGlyphs">O:</tspan><tspan x="315.8" fill="#26a69a" textLength="49.2" lengthAdjust="spacingAndGlyphs">3,022.40</tspan><tspan x="369.4" font-weight="bold" textLength="11.5" lengthAdjust="spacingAndGlyphs">H:</tspan><tspan x="382.5" fill="#26a69a" textLength="48.7" lengthAdjust="spacingAndGlyphs">3,045.07</tspan><tspan x="436.6" font-weight="bold" textLength="9.2" lengthAdjust="spacingAndGlyphs">L:</tspan><tspan x="447.3" fill="#26a69a" textLength="47.9" lengthAdjust="spacingAndGlyphs">3,002.39</tspan><tspan x="500.6" font-weight="bold" textLength="11" lengthAdjust="spacingAndGlyphs">C:</tspan><tspan x="513.2" fill="#26a69a" textLength="48.6" lengthAdjust="spacingAndGlyphs">3,033.08</tspan></text>
<path d="M189.5 33.6 L194.7 24.6 L199.9 33.6 Z" fill="#26a69a"/>
<g fill="#131722">
<path d="M6.3 886.8 H14.9 V897.5 H10.3 V891 H6.3 Z"/>
<circle cx="18.75" cy="888.8" r="2.1"/>
<path d="M23 886.8 H28.7 L24.6 897.5 H19.1 Z"/>
<text x="33.3" y="897.5" font-size="14.7" font-weight="bold" textLength="91.5" lengthAdjust="spacingAndGlyphs">TradingView</text>
</g>
</svg>
</body></html>
